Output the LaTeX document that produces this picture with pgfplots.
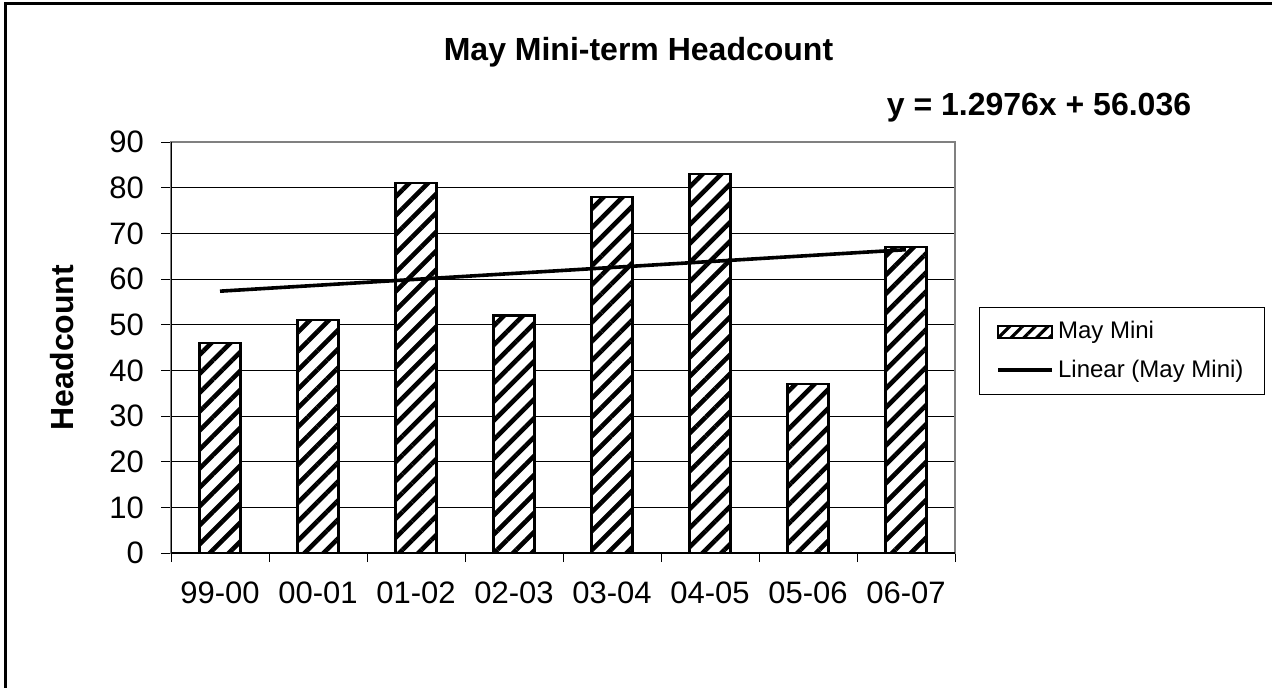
\documentclass[border=0pt]{standalone}
\usepackage{fontspec}
\setmainfont{Liberation Sans}
\usepackage{pgfplots}
\pgfplotsset{compat=1.18}
\usetikzlibrary{patterns.meta}

\begin{document}
\begin{tikzpicture}
\useasboundingbox (0,0) rectangle (636pt,343.5pt);
\draw[line width=1.5pt] (2.5pt,-2pt) -- (2.5pt,341.5pt) -- (640pt,341.5pt);
\begin{axis}[
  at={(85.5pt,67pt)}, anchor=south west,
  scale only axis, width=392pt, height=205.5pt,
  xmin=-0.5, xmax=7.5, ymin=0, ymax=90,
  ytick={0,10,...,90},
  xtick={0,...,7},
  xticklabels={99-00,00-01,01-02,02-03,03-04,04-05,05-06,06-07},
  minor xtick={-0.5,0.5,...,7.5},
  tick pos=left,
  tick align=outside,
  major tick length=5pt,
  minor tick length=4.5pt,
  major x tick style={draw=none},
  tick style={black, line width=0.5pt},
  ymajorgrids,
  grid style={black, line width=0.5pt},
  axis line style={draw=gray, line width=1pt},
  tick label style={font=\fontsize{15.5}{18}\selectfont},
  /pgf/number format/assume math mode=true,
  xticklabel style={yshift=-6pt},
  yticklabel style={xshift=-5pt},
  legend style={at={(rel axis cs:1.0306,0.5985)}, anchor=north west,
    draw=black, line width=0.5pt, font=\fontsize{12}{14}\selectfont,
    inner xsep=8.5pt, inner ysep=5pt, row sep=5pt},
  legend cell align=left,
]
\addplot[ybar, bar width=20.5pt, draw=black, line width=1.1pt,
  preaction={fill=white},
  pattern={Lines[angle=45,distance=6.7pt,line width=2.3pt]},
  legend image code/.code={\draw[preaction={fill=white}, pattern={Lines[angle=45,distance=4.5pt,line width=1.6pt]}, draw=black, line width=1.1pt] (0pt,-3pt) rectangle (27pt,3pt);}]
  coordinates {(0,46) (1,51) (2,81) (3,52) (4,78) (5,83) (6,37) (7,67)};
\addlegendentry{May Mini}
\addplot[black, line width=1.8pt, no markers,
  legend image code/.code={\draw[black, line width=1.8pt] (0pt,0pt) -- (27pt,0pt);}]
  coordinates {(0,57.334) (7,66.417)};
\addlegendentry{Linear (May Mini)}
\draw[black, line width=1pt] (rel axis cs:0,1) -- (rel axis cs:0,0) -- (rel axis cs:1,0);
\end{axis}
\node[font=\bfseries\fontsize{16}{19}\selectfont] at (319.25pt,317.5pt) {May Mini-term Headcount};
\node[font=\bfseries\fontsize{16}{19}\selectfont] at (519.5pt,289.5pt) {y = 1.2976x + 56.036};
\node[rotate=90, font=\bfseries\fontsize{16}{19}\selectfont] at (31pt,169.75pt) {Headcount};
\end{tikzpicture}
\end{document}
